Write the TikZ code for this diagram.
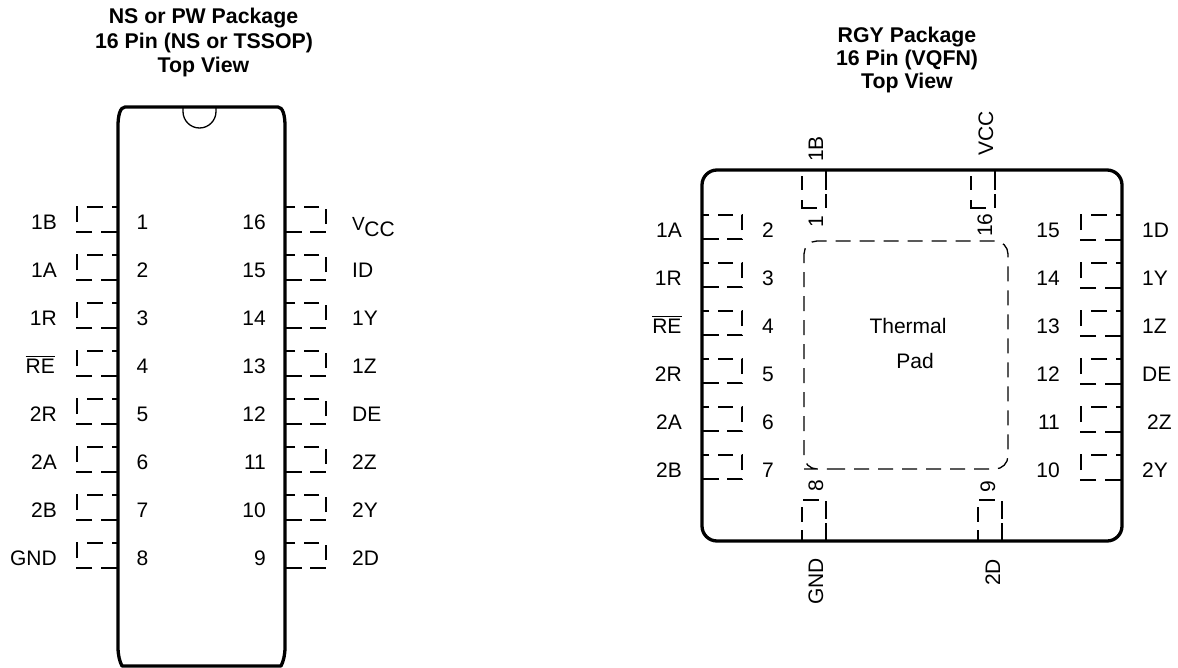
\documentclass[tikz,border=0pt]{standalone}
\usepackage{fontspec}
\setmainfont{Liberation Sans}
\newcommand\ovlbar[1]{\leavevmode\setbox0\hbox{#1}\rlap{\rule[16.2pt]{\wd0}{0.9pt}}\box0}
\tikzset{
  body/.style={line width=3.3pt,line join=round},
  thin/.style={line width=1.3pt},
  solidpin/.style={line width=1.3pt},
  boxa/.style={line width=1.3pt,dash pattern=on 16pt off 9pt},
  boxb/.style={line width=1.3pt,dash pattern=on 15.5pt off 8.5pt},
  padline/.style={line width=1.3pt,dash pattern=on 15pt off 9pt,rounded corners=13pt},
  txt/.style={inner sep=0pt,font=\fontsize{21}{24}\selectfont},
  ttl/.style={inner sep=0pt,font=\fontsize{21.3}{24}\selectfont\bfseries,anchor=base},
  lbe/.style={txt,anchor=base east},
  lbw/.style={txt,anchor=base west},
  lbc/.style={txt,anchor=base},
  rot/.style={txt,anchor=base west,rotate=90}
}
\begin{document}
\begin{tikzpicture}[x=1pt,y=-1pt]
\useasboundingbox (0,0) rectangle (1178,667);
% titles
\node[ttl] (t1a) at (203.5,23) {NS or PW Package};
\node[ttl] (t1b) at (204,48) {16 Pin (NS or TSSOP)};
\node[ttl] (t1c) at (203.5,72) {Top View};
\node[ttl] (t2a) at (907,42) {RGY Package};
\node[ttl] (t2b) at (907,65) {16 Pin (VQFN)};
\node[ttl] (t2c) at (907,88) {Top View};
% left package
\draw[body] (122,666) .. controls (119.5,661) and (118,655) .. (118,647) -- (118,126)
  .. controls (118,116) and (120,107) .. (125,107) -- (278,107)
  .. controls (283,107) and (285,116) .. (285,126) -- (285,647)
  .. controls (285,655) and (283.5,661) .. (281,666) -- cycle;
\draw[thin] (183,107) -- (183,111.5) arc[start angle=180,end angle=360,radius=16.5pt] -- (216,107);
\foreach \i/\lab/\yb in {1/1B/207,2/1A/255,3/1R/303,5/2R/399,6/2A/447,7/2B/495,8/GND/543}{
  \node[lbe] (ll\i) at (57,\yb+22) {\lab};
}
\node[lbe] (ll4) at (55,373) {\ovlbar{RE}};
\foreach \i/\yb in {1/207,2/255,3/303,4/351,5/399,6/447,7/495,8/543}{
  \node[lbc] (ln\i) at (142.5,\yb+22) {\i};
  \draw[boxa] (117,\yb+25) -- (77,\yb+25) -- (77,\yb) -- (117,\yb);
}
\foreach \i/\lab/\yb in {16/{}/207,15/ID/255,14/1Y/303,13/1Z/351,12/DE/399,11/2Z/447,10/2Y/495,9/2D/543}{
  \node[lbe] (rn\i) at (266,\yb+22) {\i};
  \node[lbw] (rl\i) at (352,\yb+22) {\lab};
  \draw[boxb] (286,\yb+25) -- (326,\yb+25) -- (326,\yb) -- (286,\yb);
}
\node[lbw] (vcc) at (352,236.5) {\raisebox{6.5pt}{\fontsize{19}{24}\selectfont V}\kern-0.5pt CC};
% right package
\draw[body,rounded corners=15pt] (702,170) rectangle (1122,541);
\draw[padline] (817,469) -- (1008,469) -- (1008,241) -- (804,241) -- (804,469) -- cycle;
\node[lbc] (pad1) at (908,333) {Thermal};
\node[lbc] (pad2) at (915,368) {Pad};
\foreach \i/\lab/\yb in {2/1A/215,3/1R/263,5/2R/359,6/2A/407,7/2B/455}{
  \node[lbe] (gl\i) at (682,\yb+22) {\lab};
}
\node[lbe] (gl4) at (681.7,333) {\ovlbar{RE}};
\foreach \i/\yb in {2/215,3/263,4/311,5/359,6/407,7/455}{
  \node[lbc] (gn\i) at (768,\yb+22) {\i};
  \draw[boxb] (703,\yb+24) -- (742,\yb+24) -- (742,\yb) -- (703,\yb);
}
\foreach \i/\lab/\yb/\lx in {15/1D/215/1142,14/1Y/263/1142,13/1Z/311/1142,12/DE/359/1142,11/2Z/407/1147,10/2Y/455/1142}{
  \node[lbe] (hn\i) at (1060,\yb+22) {\i};
  \node[lbw] (hl\i) at (\lx,\yb+22) {\lab};
  \draw[boxa] (1121,\yb+25) -- (1081,\yb+25) -- (1081,\yb) -- (1121,\yb);
}
% top and bottom pins
\node[rot] (p1b) at (823,162) {1B};
\node[rot] (pvcc) at (993,156) {VCC};
\node[rot] (n1) at (823,228) {1};
\node[rot] (n16) at (992,237) {16};
\node[rot] (pgnd) at (823,605) {GND};
\node[rot] (p2d) at (1000,586) {2D};
\node[rot] (n8) at (823,492) {8};
\node[rot] (n9) at (995,493) {9};
\foreach \x in {802,971}{
  \draw[solidpin] (\x,176) -- (\x,190) (\x,200) -- (\x,208) -- (\x+15,208);
  \draw[solidpin] (\x+24,170) -- (\x+24,190) (\x+24,194) -- (\x+24,208);
}
\foreach \x in {802,978}{
  \draw[solidpin] (\x,507) -- (\x,522) (\x,530) -- (\x,541);
  \draw[solidpin] (\x+24,501) -- (\x+24,519) (\x+24,523) -- (\x+24,541);
  \draw[solidpin] (\x+1,500) -- (\x+17,500);
}
\end{tikzpicture}
\end{document}
